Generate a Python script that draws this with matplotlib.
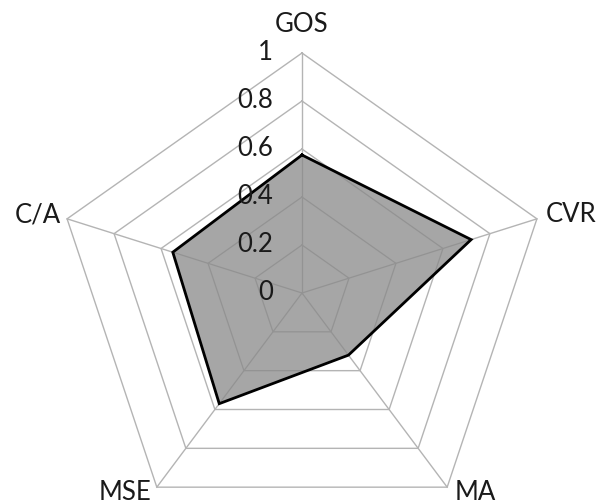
import numpy as np
import matplotlib
matplotlib.use("Agg")
import matplotlib.pyplot as plt

categories = ["GOS", "CVR", "MA", "MSE", "C/A"]
values = [0.575, 0.72, 0.32, 0.57, 0.55]
ring_levels = [0.2, 0.4, 0.6, 0.8, 1.0]
tick_labels = ["0", "0.2", "0.4", "0.6", "0.8", "1"]

plt.rcParams["font.family"] = ["Lato", "DejaVu Sans"]

W, H, DPI = 598, 504, 100
fig = plt.figure(figsize=(W / DPI, H / DPI), dpi=DPI)
ax = fig.add_axes([0, 0, 1, 1])

# pixel geometry of the web: centre and radii (x slightly wider than y)
cx, cy = 302, 293
rx, ry = 247, 240
ax.set_xlim(-cx / rx, (W - cx) / rx)
ax.set_ylim(-(H - cy) / ry, cy / ry)
ax.axis("off")

n = len(categories)
theta = np.deg2rad(90 - 72 * np.arange(n))
ux, uy = np.cos(theta), np.sin(theta)


def draw_web(color, lw, zorder, clip=None):
    lines = []
    for lv in ring_levels:
        xs = np.append(ux * lv, ux[0] * lv)
        ys = np.append(uy * lv, uy[0] * lv)
        lines += ax.plot(xs, ys, color=color, lw=lw, zorder=zorder)
    for i in range(n):
        lines += ax.plot([0, ux[i]], [0, uy[i]], color=color, lw=lw, zorder=zorder)
    if clip is not None:
        for ln in lines:
            ln.set_clip_path(clip)


draw_web("#B4B4B4", 1.0, 1)

# series polygon
v = np.array(values)
px = np.append(ux * v, ux[0] * v[0])
py = np.append(uy * v, uy[0] * v[0])
patch = ax.fill(px, py, color="#A6A6A6", lw=0, zorder=2)[0]
draw_web("#939393", 0.9, 2.5, clip=patch)
ax.plot(px, py, color="black", lw=2.0, zorder=3, solid_joinstyle="miter")

txt_col = "#1A1A1A"
fs = 18.5
# value axis labels
for k, lab in enumerate(tick_labels):
    ax.text(-29 / rx, k * 0.2, lab, ha="right", va="center",
            fontsize=fs, color=txt_col, zorder=4)

# category labels (pixel offsets from each outer vertex)
offsets = {
    "GOS": (0, 28, "center"),
    "CVR": (9, 4, "left"),
    "MA": (28, -5, "center"),
    "MSE": (-32, -5, "center"),
    "C/A": (-6, 4, "right"),
}
for i, name in enumerate(categories):
    dx, dy, ha = offsets[name]
    ax.text(ux[i] + dx / rx, uy[i] + dy / ry, name, ha=ha, va="center",
            fontsize=fs, color=txt_col)

fig.savefig("out.png", dpi=DPI, facecolor="white")
